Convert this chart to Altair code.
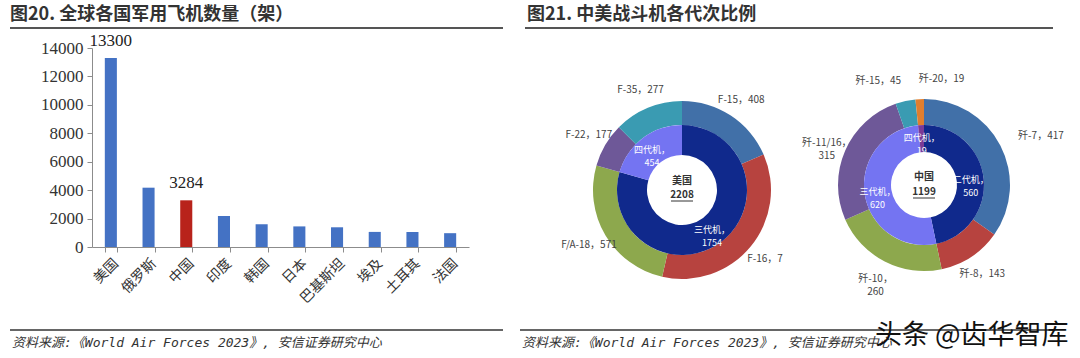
import altair as alt
import pandas as pd

# ---------------- data ----------------
countries = ["美国", "俄罗斯", "中国", "印度", "韩国", "日本", "巴基斯坦", "埃及", "土耳其", "法国"]
aircraft = [13300, 4173, 3284, 2182, 1595, 1449, 1387, 1062, 1057, 972]

us_models = ["F-15", "F-16", "F/A-18", "F-22", "F-35"]
us_model_counts = [408, 775, 571, 177, 277]
us_model_labels = ["F-15，408", "F-16，7", "F/A-18，571", "F-22，177", "F-35，277"]
us_gens = ["三代机", "四代机"]
us_gen_counts = [1754, 454]
us_gen_labels = ["三代机，\n1754", "四代机，\n454"]

cn_models = ["歼-7", "歼-8", "歼-10", "歼-11/16", "歼-15", "歼-20"]
cn_model_counts = [417, 143, 260, 315, 45, 19]
cn_model_labels = ["歼-7，417", "歼-8，143", "歼-10，\n260", "歼-11/16，\n315", "歼-15，45", "歼-20，19"]
cn_gens = ["二代机", "三代机", "四代机"]
cn_gen_counts = [560, 620, 19]
cn_gen_labels = ["二代机，\n560", "三代机，\n620", "四代机，\n19"]

# ---------------- styles / layout ----------------
us_model_colors = ["#4170A8", "#B7433F", "#8DA84D", "#6E5898", "#3A9BB2"]
us_gen_colors = ["#10298C", "#7474F2"]
cn_model_colors = ["#4170A8", "#B7433F", "#8DA84D", "#6E5898", "#3A9BB2", "#E07E2E"]
cn_gen_colors = ["#10298C", "#7474F2", "#7A3A96"]
cn_model_align = ["left", "center", "center", "center", "right", "left"]

CJK = "Noto Sans CJK SC"
one = pd.DataFrame({"k": [0]})

bars_df = pd.DataFrame({"country": countries, "n": aircraft})

xscale = alt.Scale(domain=countries, range=[92, 469], paddingInner=0.68, paddingOuter=0.34)
yscale = alt.Scale(domain=[0, 14000], range=[247, 48], nice=False)

bars = alt.Chart(bars_df).mark_bar().encode(
    x=alt.X("country:N", sort=countries, scale=xscale, title=None,
            axis=alt.Axis(offset=-111, labelAngle=-45, tickBand="extent", tickSize=5,
                          domainColor="#8c8c8c", tickColor="#8c8c8c", labelFont=CJK,
                          labelFontSize=14, labelColor="#333", labelPadding=4)),
    y=alt.Y("n:Q", scale=yscale, title=None,
            axis=alt.Axis(values=list(range(0, 14001, 2000)), format="d", offset=-92, grid=False,
                          tickSize=5, domainColor="#8c8c8c", tickColor="#8c8c8c",
                          labelFont="Liberation Serif", labelFontSize=17, labelColor="#333",
                          labelPadding=4)),
    color=alt.condition(alt.datum.country == "中国", alt.value("#B8231B"), alt.value("#4472C4")),
)

bar_labels = alt.Chart(bars_df).mark_text(
    font="Liberation Serif", fontSize=17, color="#222", dy=-17
).encode(
    x=alt.X("country:N", sort=countries, scale=xscale),
    y=alt.Y("n:Q", scale=yscale),
    text=alt.Text("n:Q", format="d"),
).transform_filter(alt.FieldOneOfPredicate(field="country", oneOf=["美国", "中国"]))


def ring(names, values, labels, colors, cx, cy, r0, r1, label_r, label_color, fsize, aligns=None):
    if aligns is None:
        aligns = ["center"] * len(names)
    df = pd.DataFrame({"name": names, "v": values, "lab": labels,
                       "i": list(range(len(names))), "al": aligns})
    base = alt.Chart(df).encode(
        theta=alt.Theta("v:Q", stack=True),
        order=alt.Order("i:Q"),
        x=alt.value(cx), y=alt.value(cy),
    )
    out = [base.mark_arc(innerRadius=r0, outerRadius=r1).encode(
        color=alt.Color("name:N", scale=alt.Scale(domain=names, range=colors), legend=None)
    )]
    for al in sorted(set(aligns)):
        # labels are stacked over the whole ring, then only those of one alignment are shown
        out.append(
            base.mark_text(radius=label_r, lineBreak="\n", font=CJK, fontSize=fsize,
                           color=label_color, lineHeight=13, align=al)
            .encode(text="lab:N",
                    opacity=alt.condition(alt.datum.al == al, alt.value(1), alt.value(0)))
        )
    return out


us_cx, us_cy = 682, 190
cn_cx, cn_cy = 924, 185

layers = [bars, bar_labels]
layers += ring(us_models, us_model_counts, us_model_labels, us_model_colors, us_cx, us_cy, 65, 89, 108, "#444", 10)
layers += ring(us_gens, us_gen_counts, us_gen_labels, us_gen_colors, us_cx, us_cy, 35, 65, 50, "white", 9)
layers += ring(cn_models, cn_model_counts, cn_model_labels, cn_model_colors, cn_cx, cn_cy, 60, 86, 106, "#444", 10,
               cn_model_align)
layers += ring(cn_gens, cn_gen_counts, cn_gen_labels, cn_gen_colors, cn_cx, cn_cy, 33, 60, 47, "white", 9)


def text(s, x, y, size, align="center", weight="normal", font=CJK, color="#333", italic=False):
    m = alt.Chart(one).mark_text(text=s, align=align, baseline="middle", fontSize=size,
                                 fontWeight=weight, font=font, color=color,
                                 fontStyle="italic" if italic else "normal")
    return m.encode(x=alt.value(x), y=alt.value(y))


def rule(x1, x2, y, color="#555", w=2):
    return alt.Chart(one).mark_rule(color=color, strokeWidth=w).encode(
        x=alt.value(x1), x2=alt.value(x2), y=alt.value(y))


# donut centre labels
layers += [
    text("美国", us_cx, us_cy - 9, 10, weight="bold"),
    text(str(sum(us_gen_counts)), us_cx, us_cy + 5, 10, weight="bold"),
    rule(us_cx - 11, us_cx + 11, us_cy + 11, "#333", 1),
    text("中国", cn_cx, cn_cy - 8, 10, weight="bold"),
    text(str(sum(cn_gen_counts)), cn_cx, cn_cy + 7, 10, weight="bold"),
    rule(cn_cx - 11, cn_cx + 11, cn_cy + 13, "#333", 1),
]

# titles, rules, footnotes
foot = "资料来源:《World Air Forces 2023》, 安信证券研究中心"
layers += [
    text("图20. 全球各国军用飞机数量（架）", 10, 15, 18, align="left", weight="bold"),
    text("图21. 中美战斗机各代次比例", 527, 15, 18, align="left", weight="bold"),
    rule(10, 503, 28),
    rule(525, 1053, 28),
    rule(10, 503, 330, "#333", 1.5),
    rule(520, 1053, 330, "#333", 1.5),
    text(foot, 12, 343, 13, align="left", font="DejaVu Sans Mono, " + CJK, italic=True),
    text(foot, 522, 343, 13, align="left", font="DejaVu Sans Mono, " + CJK, italic=True),
    text("头条 @齿华智库", 875, 336, 27, align="left", color="#111"),
]

chart = alt.layer(*layers).resolve_scale(theta="independent", color="independent",
                                         opacity="independent").properties(
    width=1080, height=358, padding=0,
    autosize=alt.AutoSizeParams(type="none"),
).configure_view(stroke=None)

chart.save("out.html", embed_options={"renderer": "svg", "actions": False})
